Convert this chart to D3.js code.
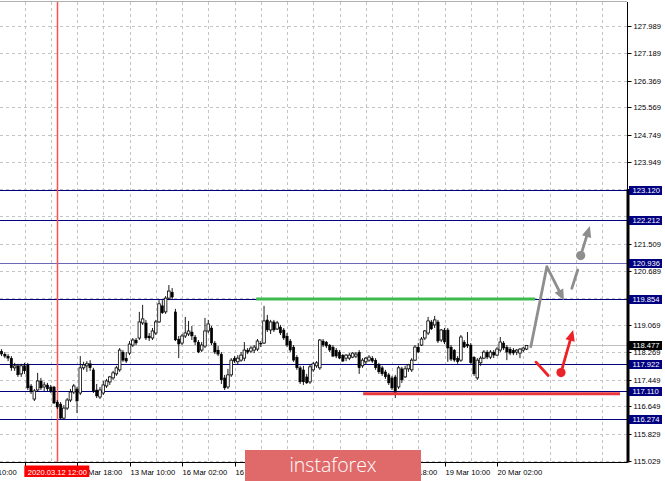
<!DOCTYPE html>
<html><head><meta charset="utf-8">
<script src="https://cdn.jsdelivr.net/npm/d3@7"></script>
<style>
body{margin:0;background:#fff;overflow:hidden}
svg{display:block;font-family:"Liberation Sans",Arial,sans-serif}
</style></head><body>
<svg id="c" width="665" height="481"></svg>
<script>
// ---- data ----
// H1 candles [open, high, low, close]; first candle is bar index 9 (11 Mar 19:00)
const firstBar = 9;
const candles = [
[118.30,118.36,118.15,118.21],[118.21,118.27,118.09,118.15],[118.15,118.21,118.00,118.09],[118.09,118.15,117.71,117.80],
[117.80,117.95,117.71,117.86],[117.86,117.92,117.53,117.59],[117.62,117.92,117.53,117.86],[117.86,117.95,117.62,117.71],
[117.89,117.95,117.14,117.20],[117.26,117.32,117.02,117.08],[116.87,117.17,116.81,117.11],[117.14,117.65,117.08,117.41],
[117.41,117.50,117.14,117.20],[117.23,117.38,117.11,117.29],[117.29,117.35,117.11,117.17],[117.23,117.29,117.05,117.11],
[117.23,117.26,116.72,116.75],[116.78,116.84,116.57,116.63],[116.72,116.78,116.27,116.30],[116.30,116.69,116.27,116.60],
[116.60,116.90,116.54,116.84],[116.84,117.17,116.78,117.08],[117.08,117.32,117.02,117.26],[117.17,117.23,116.45,116.81],
[117.05,118.15,116.99,117.80],[117.80,117.98,117.74,117.89],[117.86,118.00,117.68,117.92],[117.92,118.03,117.71,117.80],
[117.74,117.80,117.05,117.11],[117.14,117.32,116.90,116.96],[116.93,117.23,116.87,117.14],[117.05,117.41,116.99,117.29],
[117.26,117.47,117.20,117.41],[117.38,117.56,117.29,117.53],[117.50,117.71,117.44,117.65],[117.62,117.86,117.56,117.80],
[117.74,118.39,117.68,118.33],[118.27,118.33,117.98,118.03],[118.09,118.27,117.95,118.00],[118.24,118.60,118.18,118.51],
[118.48,118.69,118.42,118.63],[118.63,118.69,118.48,118.54],[118.69,119.47,118.63,119.17],[119.14,119.68,119.08,119.26],
[119.14,119.23,118.63,118.69],[118.75,118.84,118.60,118.69],[118.69,118.99,118.63,118.90],[118.84,119.23,118.78,119.17],
[119.17,119.82,119.14,119.71],[119.65,119.82,119.41,119.44],[119.47,119.94,119.41,119.88],[119.88,120.27,119.82,120.09],
[120.06,120.18,119.85,119.91],[119.47,119.56,118.60,118.63],[118.66,118.75,118.09,118.51],[118.54,118.81,118.48,118.75],
[118.75,119.32,118.69,118.84],[118.81,119.20,118.75,118.90],[118.87,119.05,118.63,118.75],[118.72,118.78,118.48,118.57],
[118.57,118.63,118.24,118.27],[118.33,118.57,118.27,118.48],[118.45,119.29,118.39,118.90],[118.90,119.23,118.84,119.11],
[118.99,119.05,118.48,118.54],[118.54,118.60,118.21,118.27],[118.33,118.45,118.15,118.21],[118.21,118.27,117.32,117.44],
[117.50,117.59,117.14,117.20],[117.23,117.77,117.17,117.59],[117.59,118.09,117.53,118.03],[118.09,118.15,117.95,118.00],
[117.98,118.18,117.89,118.09],[118.03,118.27,117.98,118.18],[118.09,118.57,118.00,118.33],[118.33,118.39,118.21,118.27],
[118.30,118.45,118.24,118.39],[118.33,118.48,118.24,118.42],[118.36,118.66,118.30,118.60],[118.54,118.60,118.42,118.51],
[118.54,119.65,118.51,119.20],[119.23,119.38,118.87,118.93],[118.93,119.23,118.81,119.17],[119.17,119.23,118.87,118.93],
[118.96,119.20,118.93,119.14],[119.02,119.08,118.78,118.84],[118.93,118.99,118.63,118.69],[118.75,118.84,118.42,118.48],
[118.60,118.66,118.27,118.33],[118.42,118.48,117.98,118.03],[118.12,118.18,117.74,117.80],[117.80,117.86,117.32,117.38],
[117.74,117.86,117.29,117.38],[117.53,117.62,117.32,117.35],[117.38,117.89,117.32,117.83],[117.74,117.98,117.68,117.92],
[117.86,118.00,117.80,117.95],[117.80,118.66,117.74,118.63],[118.60,118.66,118.42,118.48],[118.57,118.60,118.39,118.45],
[118.48,118.51,118.27,118.33],[118.42,118.48,118.12,118.15],[118.33,118.39,118.09,118.15],[118.27,118.33,118.06,118.09],
[118.18,118.21,117.98,118.00],[118.09,118.21,118.00,118.18],[118.09,118.24,118.03,118.18],[118.12,118.27,118.09,118.24],
[118.15,118.27,118.09,118.21],[118.27,118.33,117.62,117.80],[117.86,118.09,117.80,118.03],[117.98,118.12,117.92,118.09],
[118.03,118.18,117.98,118.12],[118.09,118.15,117.95,118.00],[118.03,118.09,117.74,117.80],[117.89,117.95,117.62,117.68],
[117.80,117.86,117.56,117.62],[117.68,117.74,117.47,117.53],[117.59,117.65,117.29,117.35],[117.50,117.56,117.14,117.20],
[117.53,117.59,116.90,117.05],[117.23,117.86,117.17,117.80],[117.77,117.83,117.35,117.44],[117.53,117.86,117.50,117.77],
[117.77,117.92,117.68,117.89],[117.74,118.09,117.68,118.03],[118.03,118.48,118.00,118.42],[118.42,118.54,118.24,118.27],
[118.48,118.72,118.45,118.66],[118.69,118.93,118.63,118.90],[118.84,119.32,118.78,119.20],[119.17,119.23,118.93,118.96],
[119.08,119.35,118.99,119.23],[119.17,119.23,118.54,118.60],[118.63,118.96,118.57,118.93],[118.93,118.99,118.51,118.57],
[118.93,118.99,117.98,118.39],[118.42,118.48,118.00,118.06],[118.33,118.36,117.98,118.03],[118.09,118.15,117.92,117.98],
[118.03,118.78,117.98,118.72],[118.57,118.63,118.39,118.42],[118.51,118.87,118.39,118.45],[118.48,118.54,117.92,117.95],
[118.12,118.15,117.56,117.62],[117.50,118.09,117.44,118.03],[117.95,118.15,117.86,118.09],[118.09,118.33,118.06,118.27],
[118.27,118.33,118.06,118.12],[118.12,118.33,118.06,118.27],[118.27,118.33,118.09,118.18],[118.18,118.42,118.15,118.36],
[118.33,118.72,118.27,118.57],[118.54,118.60,118.33,118.39],[118.42,118.48,118.03,118.27],[118.36,118.42,118.18,118.24],
[118.33,118.39,118.18,118.24],[118.27,118.36,118.18,118.33],[118.24,118.39,118.09,118.36],[118.33,118.42,118.27,118.39],
[118.36,118.48,118.33,118.47]
];
const priceTicks = [127.989,127.189,126.369,125.569,124.749,123.949,123.129,122.329,121.509,120.689,119.869,119.069,118.269,117.449,116.649,115.829,115.029];
const timeTickBars = [0,16,32,48,64,80,96,112,128,144,160];
const timeLabels = ["11 Mar 10:00","12 Mar 02:00","12 Mar 18:00","13 Mar 10:00","16 Mar 02:00","16 Mar 18:00","17 Mar 10:00","18 Mar 02:00","18 Mar 18:00","19 Mar 10:00","20 Mar 02:00"];
const levels = [123.120,122.212,120.936,119.854,117.922,117.110,116.274];
const bidPrice = 118.477;
const markerBar = 26, markerLabel = "2020.03.12 12:00";
const greenSegment = [[86.6,119.854],[171.6,119.854]];
const redSegment = [[119.2,117.03],[197.5,117.03]];
const grayPath = [[170.3,118.43],[175.2,120.82],[180.4,119.81]];
const grayDash = [[182.8,120.17],[184.6,120.72]];
const grayCircle = [185.5,121.15];
const grayArrowTip = [188.3,122.03];
const redDash = [[171.9,117.97],[175.6,117.57]];
const redCircle = [179.5,117.66];
const redArrowTip = [183.2,118.93];
const logoText = "instaforex";

// ---- layout ----
const W = 665, H = 481, plotR = 627, plotT = 2, plotB = 462.5;
const x = d3.scaleLinear().domain([0,16]).range([-28,24.5]);
const y = d3.scaleLinear().domain([116.274,119.854]).range([419,299]);
const svg = d3.select("#c");
svg.append("defs").append("clipPath").attr("id","pc").append("rect")
  .attr("x",0).attr("y",plotT).attr("width",plotR).attr("height",plotB-plotT);
const plot = svg.append("g").attr("clip-path","url(#pc)");

// grid
const gridCol = "#c4c4c4";
const vgrid = d3.range(0,200,8).filter(b=>x(b)>0 && x(b)<plotR);
plot.selectAll("line.vg").data(vgrid).enter().append("line")
  .attr("x1",d=>Math.round(x(d))+0.5).attr("x2",d=>Math.round(x(d))+0.5)
  .attr("y1",plotT).attr("y2",plotB).attr("stroke",gridCol).attr("stroke-dasharray","3,3");
plot.selectAll("line.hg").data(priceTicks).enter().append("line")
  .attr("x1",0).attr("x2",plotR)
  .attr("y1",d=>Math.round(y(d))+0.5).attr("y2",d=>Math.round(y(d))+0.5)
  .attr("stroke",gridCol).attr("stroke-dasharray","3,3");

// bid line
plot.append("line").attr("x1",0).attr("x2",plotR)
  .attr("y1",Math.round(y(bidPrice))+0.5).attr("y2",Math.round(y(bidPrice))+0.5)
  .attr("stroke","#c0c0c0");

// level lines
plot.selectAll("line.lv").data(levels).enter().append("line")
  .attr("x1",0).attr("x2",plotR)
  .attr("y1",d=>Math.round(y(d))+0.5).attr("y2",d=>Math.round(y(d))+0.5)
  .attr("stroke",(d,i)=>i===2?"#6a6ab4":"#000080");

// marker vertical line
plot.append("rect").attr("x",Math.round(x(markerBar))-0.25).attr("width",1.5)
  .attr("y",plotT).attr("height",plotB-plotT).attr("fill","#ff5050");

// green & red zones
const seg = (g,pts,col,w)=>g.append("line")
  .attr("x1",x(pts[0][0])).attr("y1",y(pts[0][1])).attr("x2",x(pts[1][0])).attr("y2",y(pts[1][1]))
  .attr("stroke",col).attr("stroke-width",w);
seg(plot,greenSegment,"#3dbb4e",3);
seg(svg,redSegment,"#e8383d",3);

// candles
const bw = 2.6;
const cg = plot.append("g");
candles.forEach((c,k)=>{
  const b = firstBar + k, cx = x(b);
  const [o,h,l,cl] = c;
  cg.append("line").attr("x1",cx).attr("x2",cx).attr("y1",y(h)).attr("y2",y(l))
    .attr("stroke","#000").attr("stroke-width",0.9);
  const top = y(Math.max(o,cl)), bot = y(Math.min(o,cl));
  const bull = cl >= o;
  cg.append("rect").attr("x",cx-bw/2).attr("y",top).attr("width",bw).attr("height",Math.max(0.8,bot-top))
    .attr("fill",bull?"#fff":"#000").attr("stroke","#000").attr("stroke-width",bull?0.8:0.3);
});

// forecast arrows
function head(g,from,tip,col){
  const x0=x(from[0]),y0=y(from[1]),x1=x(tip[0]),y1=y(tip[1]);
  const dx=x1-x0,dy=y1-y0,len=Math.hypot(dx,dy),ux=dx/len,uy=dy/len;
  const L=11,Wd=4.8,bx=x1-ux*L,by=y1-uy*L;
  g.append("polygon").attr("points",[[x1,y1],[bx-uy*Wd,by+ux*Wd],[bx+uy*Wd,by-ux*Wd]].map(p=>p.join(",")).join(" "))
    .attr("fill",col);
  return [bx+ux*2,by+uy*2];
}
const fg = svg.append("g").attr("fill","none").attr("stroke-linecap","round").attr("stroke-linejoin","round");
const gray="#8e8e8e", red="#ec2228";
{
  const n=grayPath.length;
  const hb = head(svg,grayPath[n-2],grayPath[n-1],gray);
  const pts = grayPath.slice(0,n-1).map(p=>[x(p[0]),y(p[1])]).concat([hb]);
  fg.append("path").attr("d",d3.line()(pts)).attr("stroke",gray).attr("stroke-width",2.8);
}
seg(fg,grayDash,gray,2.8);
svg.append("circle").attr("cx",x(grayCircle[0])).attr("cy",y(grayCircle[1])).attr("r",4.6).attr("fill",gray);
{
  const hb = head(svg,grayCircle,grayArrowTip,gray);
  fg.append("path").attr("d",d3.line()([[x(grayCircle[0]),y(grayCircle[1])],hb])).attr("stroke",gray).attr("stroke-width",2.8);
}
seg(fg,redDash,red,2.8);
svg.append("circle").attr("cx",x(redCircle[0])).attr("cy",y(redCircle[1])).attr("r",4.6).attr("fill",red);
{
  const hb = head(svg,redCircle,redArrowTip,red);
  fg.append("path").attr("d",d3.line()([[x(redCircle[0]),y(redCircle[1])],hb])).attr("stroke",red).attr("stroke-width",2.8);
}

// borders
svg.append("line").attr("x1",0).attr("x2",plotR).attr("y1",1.5).attr("y2",1.5).attr("stroke","#b0b0b0");
svg.append("line").attr("x1",0).attr("x2",plotR+0.5).attr("y1",plotB).attr("y2",plotB).attr("stroke","#000");
svg.append("line").attr("x1",plotR+0.5).attr("x2",plotR+0.5).attr("y1",plotT).attr("y2",plotB).attr("stroke","#000");
svg.append("line").attr("x1",plotR+1).attr("x2",plotR+1).attr("y1",y(levels[0])).attr("y2",plotB).attr("stroke","#000").attr("stroke-width",3);

// price axis
const fs = "7.6px";
const hidden = d => levels.some(l=>Math.abs(y(l)-y(d))<8);
const pa = svg.append("g").attr("transform",`translate(${plotR+0.5},0)`)
  .call(d3.axisRight(y).tickValues(priceTicks).tickSize(4).tickPadding(2)
        .tickFormat(d=>hidden(d)?"":d3.format(".3f")(d)));
pa.select(".domain").remove();
pa.selectAll("text").attr("font-size",fs).attr("font-family","Liberation Sans, Arial, sans-serif").attr("fill","#000");
pa.selectAll(".tick line").attr("stroke","#000");
pa.selectAll(".tick").attr("transform",d=>`translate(0,${Math.round(y(d))+0.5})`);

// level boxes
const boxes = levels.map(l=>({p:l,bg:"#000080"})).concat([{p:bidPrice,bg:"#000"}]);
const bg = svg.append("g");
boxes.forEach(b=>{
  const yy = Math.round(y(b.p))+0.5;
  bg.append("rect").attr("x",629).attr("y",yy-4.5).attr("width",33).attr("height",9).attr("fill",b.bg);
  bg.append("text").attr("x",632.5).attr("y",yy).attr("dy","0.34em").attr("font-size",fs)
    .attr("fill","#fff").text(d3.format(".3f")(b.p));
});

// time axis
const ta = svg.append("g").attr("transform",`translate(0,${plotB})`)
  .call(d3.axisBottom(x).tickValues(timeTickBars).tickSize(4).tickPadding(3)
        .tickFormat((d,i)=>timeLabels[i]));
ta.select(".domain").remove();
ta.selectAll(".tick").attr("transform",d=>`translate(${Math.round(x(d))+0.5},0)`);
ta.selectAll(".tick line").attr("stroke","#000");
ta.selectAll("text").attr("font-size",fs).attr("font-family","Liberation Sans, Arial, sans-serif")
  .attr("fill","#000").attr("text-anchor","start").attr("x",0);

// marker time label
const mx = x(markerBar);
svg.append("rect").attr("x",mx-33).attr("y",465.5).attr("width",65).attr("height",11.5).attr("fill","#ff0000");
svg.append("text").attr("x",mx).attr("y",474.5).attr("text-anchor","middle").attr("font-size",fs)
  .attr("fill","#fff").text(markerLabel);

// logo
svg.append("rect").attr("x",245).attr("y",450).attr("width",176).attr("height",31).attr("fill","#e06a6a");
svg.append("text").attr("x",333).attr("y",472).attr("text-anchor","middle")
  .attr("font-family","Open Sans, sans-serif").attr("font-size","19.5px").attr("font-weight",300)
  .attr("fill","#fff").text(logoText);
</script>
</body></html>
